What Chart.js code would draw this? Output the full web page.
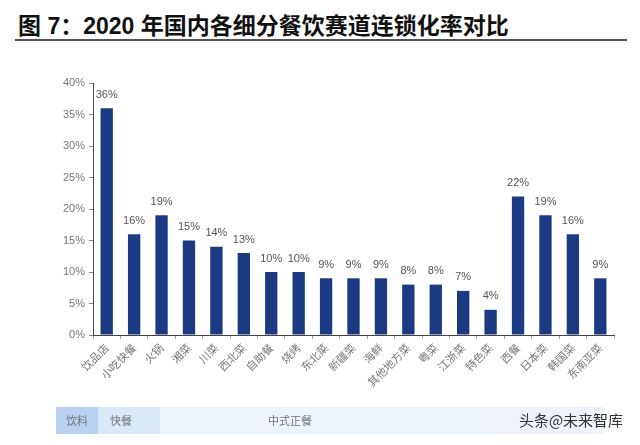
<!DOCTYPE html>
<html><head><meta charset="utf-8">
<script src="https://cdn.jsdelivr.net/npm/chart.js@4/dist/chart.umd.min.js"></script>
<style>
html,body{margin:0;padding:0;background:#fff;}
#wrap{position:relative;width:640px;height:445px;overflow:hidden;}
#title{position:absolute;left:18px;top:7px;font:bold 23px "Liberation Sans","Noto Sans CJK SC",sans-serif;color:#111;white-space:nowrap;}
#rule{position:absolute;left:15px;top:39px;width:612px;height:0;border-top:2px solid #555;}
canvas{position:absolute;left:0;top:0;}
</style></head>
<body><div id="wrap">
<div id="title">图 7：2020 年国内各细分餐饮赛道连锁化率对比</div>
<div id="rule"></div>
<canvas id="c" width="640" height="445"></canvas>
</div>
<script>
const categories = ["饮品店","小吃快餐","火锅","湘菜","川菜","西北菜","自助餐","烧烤","东北菜","新疆菜","海鲜","其他地方菜","粤菜","江浙菜","特色菜","西餐","日本菜","韩国菜","东南亚菜"];
const values = [36,16,19,15,14,13,10,10,9,9,9,8,8,7,4,22,19,16,9];
const yTicks = [0,5,10,15,20,25,30,35,40];
const groupLabels = ["饮料","快餐","中式正餐"];
const watermark = "头条@未来智库";

const CJK = '"Noto Sans CJK SC", sans-serif';

const valueLabels = {
  id:'valueLabels',
  afterDatasetsDraw(chart){
    const ctx = chart.ctx;
    const meta = chart.getDatasetMeta(0);
    ctx.save();
    ctx.font = '11px "Liberation Sans", Arial, sans-serif';
    ctx.fillStyle = '#555';
    ctx.textAlign = 'center';
    ctx.textBaseline = 'bottom';
    meta.data.forEach((el,i)=>{
      ctx.fillText(values[i] + '%', el.x, el.y - 8);
    });
    ctx.restore();
  }
};

const band = {
  id:'band',
  afterDraw(chart){
    const ctx = chart.ctx;
    ctx.save();
    const y0 = 407, h = 27;
    const boxes = [[56,98,'#b9d2f2'],[98,160,'#dbe8f8'],[160,494,'#edf3fb'],[494,604,'#eef3fb']];
    boxes.forEach(b=>{ctx.fillStyle=b[2];ctx.fillRect(b[0],y0,b[1]-b[0],h);});
    ctx.font = '11px ' + CJK;
    ctx.fillStyle = '#777';
    ctx.textAlign='center'; ctx.textBaseline='middle';
    ctx.fillText(groupLabels[0], 77, y0+h/2);
    ctx.fillText(groupLabels[1], 121, y0+h/2);
    ctx.fillText(groupLabels[2], 290, y0+h/2);
    ctx.font = '15px ' + CJK;
    ctx.fillStyle = '#333';
    ctx.fillText(watermark, 571, y0+h/2);
    ctx.restore();
  }
};

new Chart(document.getElementById('c'), {
  type:'bar',
  data:{labels:categories, datasets:[{data:values, backgroundColor:'#1c3a82', barPercentage:0.45, categoryPercentage:1.0}]},
  options:{
    responsive:false, animation:false,
    layout:{padding:{left:43, right:26, top:83, bottom:40}},
    plugins:{legend:{display:false}, tooltip:{enabled:false}},
    scales:{
      x:{
        offset:true,
        afterFit(s){ s.height = 70; },
        border:{display:true,color:'#444',width:1},
        grid:{display:true, drawOnChartArea:false, drawTicks:true, tickLength:4, color:'#c99', offset:true},
        ticks:{maxRotation:45, minRotation:45, autoSkip:false, color:'#777', font:{size:11, family:'"Noto Sans CJK SC", sans-serif'}, padding:2}
      },
      y:{
        min:0, max:40,
        afterFit(s){ s.width = 50; },
        afterBuildTicks(s){ s.ticks = yTicks.map(v=>({value:v})); },
        border:{display:true,color:'#444',width:1},
        grid:{display:true, drawOnChartArea:false, drawTicks:true, tickLength:4, color:'#888'},
        ticks:{color:'#777', font:{size:11, family:'"Liberation Sans", Arial, sans-serif'}, callback:v=>v+'%', padding:4}
      }
    }
  },
  plugins:[valueLabels, band]
});
</script>
</body></html>
